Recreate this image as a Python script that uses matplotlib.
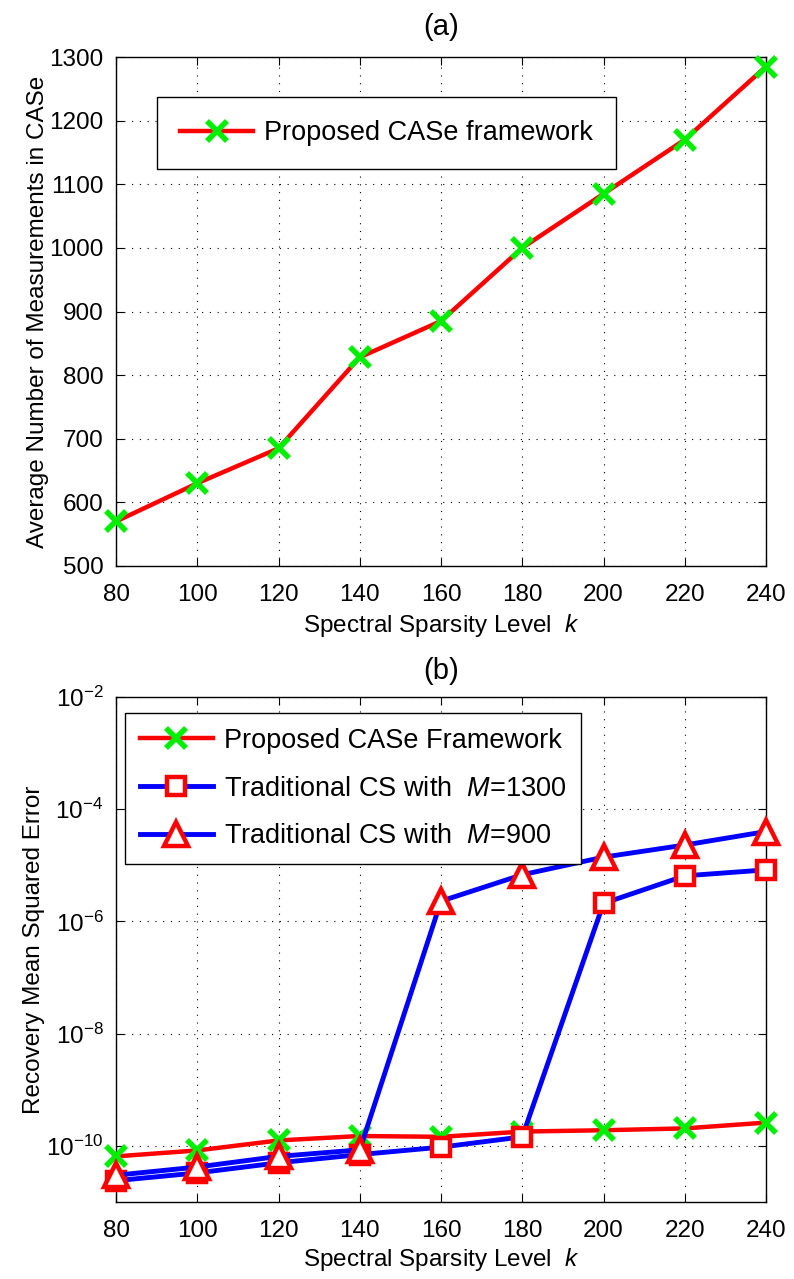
import numpy as np
import matplotlib
matplotlib.use('Agg')
import matplotlib.pyplot as plt
from matplotlib.ticker import FixedLocator, NullLocator

plt.rcParams['font.family'] = ['Liberation Sans', 'DejaVu Sans']
plt.rcParams['mathtext.fontset'] = 'custom'
plt.rcParams['mathtext.rm'] = 'Liberation Sans'
plt.rcParams['mathtext.it'] = 'Liberation Sans:italic'

# --- data ---
k = [80, 100, 120, 140, 160, 180, 200, 220, 240]
avg_meas = [570, 630, 685, 828, 885, 1000, 1085, 1170, 1285]

mse_case = [6.5e-11, 8.3e-11, 1.25e-10, 1.5e-10, 1.45e-10, 1.8e-10, 1.9e-10, 2.05e-10, 2.6e-10]
mse_m1300 = [2.4e-11, 3.3e-11, 5.0e-11, 7.0e-11, 9.5e-11, 1.45e-10, 2.1e-6, 6.5e-6, 8.3e-6]
mse_m900 = [3.0e-11, 4.2e-11, 6.5e-11, 8.5e-11, 2.3e-6, 6.8e-6, 1.4e-5, 2.3e-5, 4.0e-5]

FS = 17.5      # ticks / axis labels
LFS = 19.5     # legend text
TFS = 21       # panel titles

fig = plt.figure(figsize=(7.94, 12.79), dpi=100)

# --- (a) ---
ax1 = fig.add_axes([116 / 794, 1 - 566 / 1279, 650 / 794, 509 / 1279])
ax1.plot(k, avg_meas, color='red', lw=3.2, marker='x', ms=14, mew=4,
         mec='#00ee00', label='Proposed CASe framework', clip_on=False, zorder=3)
ax1.set_xlim(80, 240)
ax1.set_ylim(500, 1300)
ax1.set_xticks(k)
ax1.set_yticks(range(500, 1301, 100))
ax1.grid(True, color='black', linestyle=(0, (1, 6)), lw=0.8)
ax1.set_xlabel('Spectral Sparsity Level  $\\mathit{k}$', fontsize=FS, labelpad=4)
ax1.set_ylabel('Average Number of Measurements in CASe', fontsize=FS, labelpad=0)
ax1.set_title('(a)', fontsize=TFS, pad=16)
leg1 = ax1.legend(loc='upper left', bbox_to_anchor=(41 / 650, (566 - 97) / 509), fontsize=LFS,
                  fancybox=False, edgecolor='black', framealpha=1,
                  borderpad=0.85, handlelength=2.7, handletextpad=0.4, borderaxespad=0)
leg1.get_frame().set_linewidth(1.0)

# --- (b) ---
ax2 = fig.add_axes([116 / 794, 1 - 1202 / 1279, 650 / 794, 505 / 1279])
ax2.semilogy(k, mse_case, color='red', lw=3.2, marker='x', ms=14, mew=4,
             mec='#00ee00', label='Proposed CASe Framework', clip_on=False, zorder=3)
ax2.semilogy(k, mse_m1300, color='blue', lw=3.5, marker='s', ms=13, mew=3.2,
             mec='red', mfc='white', label='Traditional CS with  $\\mathit{M}$=$\\mathit{1300}$',
             clip_on=False, zorder=4)
ax2.semilogy(k, mse_m900, color='blue', lw=3.5, marker='^', ms=17, mew=3.2,
             mec='red', mfc='white', label='Traditional CS with  $\\mathit{M}$=$\\mathit{900}$',
             clip_on=False, zorder=5)
ax2.set_xlim(80, 240)
ax2.set_ylim(1e-11, 1e-2)
ax2.set_xticks(k)
ax2.yaxis.set_major_locator(FixedLocator([1e-10, 1e-8, 1e-6, 1e-4, 1e-2]))
ax2.yaxis.set_minor_locator(NullLocator())
ax2.grid(True, color='black', linestyle=(0, (1, 6)), lw=0.8)
ax2.set_xlabel('Spectral Sparsity Level  $\\mathit{k}$', fontsize=FS, labelpad=3)
ax2.set_ylabel('Recovery Mean Squared Error', fontsize=FS, labelpad=1)
ax2.set_title('(b)', fontsize=TFS, pad=13)
leg2 = ax2.legend(loc='upper left', bbox_to_anchor=(9 / 650, (1202 - 713) / 505), fontsize=LFS,
                  fancybox=False, edgecolor='black', framealpha=1,
                  borderpad=0.55, handlelength=2.7, handletextpad=0.4,
                  labelspacing=0.8, borderaxespad=0)
leg2.get_frame().set_linewidth(1.0)

for ax in (ax1, ax2):
    ax.tick_params(direction='in', labelsize=FS, length=6, top=True, right=True)
    ax.tick_params(axis='x', pad=13)
    ax.tick_params(axis='y', pad=9)
    for s in ax.spines.values():
        s.set_linewidth(1.0)

fig.savefig('out.png', dpi=100)
